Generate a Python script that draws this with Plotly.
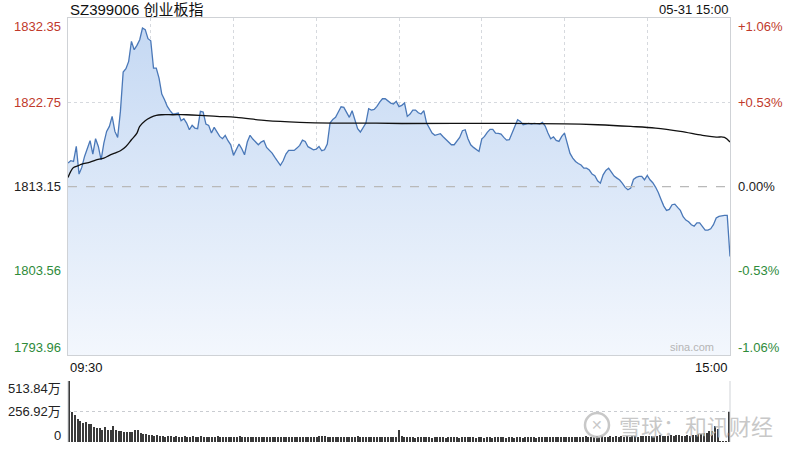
import plotly.graph_objects as go

# ---------------- data ----------------
prev_close = 1813.15
y_ticks = [1832.35, 1822.75, 1813.15, 1803.56, 1793.96]
pct_ticks = ["+1.06%", "+0.53%", "0.00%", "-0.53%", "-1.06%"]
vol_ticks = [513.84, 256.92, 0]
vol_tick_text = ["513.84万", "256.92万", "0"]

price = [
    1815.82, 1816.09, 1816.01, 1817.72, 1814.57, 1815.33, 1816.58, 1817.53, 1818.37, 1816.85,
    1818.60, 1817.72, 1816.20, 1818.10, 1819.43, 1820.00, 1821.14, 1819.43, 1818.75, 1821.71,
    1826.19, 1826.57, 1827.41, 1829.69, 1828.74, 1829.23, 1829.88, 1831.21, 1831.02, 1829.99,
    1829.76, 1826.65, 1826.65, 1825.51, 1823.69, 1823.04, 1822.28, 1821.79, 1821.41, 1821.45,
    1821.52, 1820.65, 1820.88, 1820.38, 1819.62, 1820.12, 1819.81, 1819.74, 1821.71, 1821.64,
    1820.27, 1820.12, 1819.24, 1819.89, 1819.36, 1818.86, 1818.60, 1818.98, 1818.37, 1817.91,
    1816.70, 1817.34, 1817.99, 1817.46, 1816.77, 1818.22, 1818.98, 1818.56, 1818.22, 1817.91,
    1818.22, 1818.37, 1817.61, 1817.34, 1816.96, 1816.47, 1816.01, 1815.56, 1816.09, 1816.85,
    1817.27, 1817.31, 1817.27, 1817.53, 1817.84, 1818.44, 1818.29, 1817.69, 1817.53, 1817.34,
    1817.42, 1817.72, 1817.23, 1817.34, 1817.99, 1820.38, 1820.80, 1821.03, 1821.64, 1822.24,
    1822.17, 1821.64, 1821.03, 1821.79, 1820.88, 1819.74, 1819.36, 1819.81, 1820.38, 1822.02,
    1821.86, 1821.94, 1822.28, 1822.77, 1823.15, 1823.15, 1822.93, 1822.66, 1822.55, 1822.85,
    1822.25, 1822.40, 1822.66, 1821.14, 1821.41, 1821.86, 1821.86, 1821.56, 1821.41, 1821.79,
    1820.38, 1819.81, 1819.24, 1818.98, 1819.05, 1819.17, 1818.82, 1818.48, 1818.18, 1817.91,
    1817.91, 1818.29, 1818.75, 1819.51, 1819.62, 1818.60, 1817.91, 1817.61, 1817.34, 1817.15,
    1818.56, 1818.86, 1819.32, 1819.66, 1819.66, 1819.24, 1819.20, 1819.13, 1818.75, 1818.44,
    1818.48, 1819.24, 1820.04, 1820.76, 1820.57, 1820.19, 1820.27, 1820.34, 1820.27, 1820.34,
    1820.31, 1820.27, 1820.46, 1820.04, 1819.24, 1818.60, 1818.82, 1818.41, 1818.29, 1818.86,
    1819.24, 1818.06, 1816.92, 1816.39, 1816.01, 1815.78, 1815.60, 1815.25, 1815.25, 1815.03,
    1814.57, 1814.38, 1813.81, 1813.54, 1814.49, 1814.99, 1815.25, 1814.80, 1814.34, 1814.11,
    1813.89, 1813.51, 1813.05, 1812.78, 1812.97, 1813.96, 1814.19, 1814.30, 1814.30, 1813.92,
    1814.42, 1813.92, 1813.58, 1813.09, 1812.48, 1811.68, 1810.92, 1810.43, 1810.54, 1811.08,
    1811.15, 1810.77, 1810.43, 1809.71, 1809.33, 1809.14, 1808.80, 1808.64, 1809.02, 1809.02,
    1808.61, 1808.19, 1808.19, 1808.34, 1808.80, 1809.56, 1809.75, 1809.82, 1809.86, 1809.86,
    1805.19,
]
minutes = list(range(len(price)))

avg_t = [0, 1, 2, 4, 5, 8, 10, 13, 15, 17, 19, 21, 23, 25, 26, 28, 30, 32, 34, 38, 43, 48, 54,
         61, 72, 84, 96, 108, 121, 150, 180, 192, 204, 213, 222, 230, 235, 238, 240]
avg_v = [1814.19, 1814.87, 1815.33, 1815.56, 1815.71, 1815.94, 1816.17, 1816.39, 1816.70,
         1816.96, 1817.23, 1817.72, 1818.48, 1819.24, 1820.00, 1820.65, 1821.03, 1821.26,
         1821.33, 1821.33, 1821.33, 1821.26, 1821.14, 1821.03, 1820.65, 1820.46, 1820.38,
         1820.38, 1820.33, 1820.35, 1820.30, 1820.19, 1820.00, 1819.81, 1819.43, 1818.98,
         1818.79, 1818.75, 1818.22]

# volume in 万, one value per minute (241 values)
volume = [
    513.84, 256.9, 229, 193, 173, 159, 165, 151, 154, 126,
    117, 117, 103, 126, 98, 98, 131, 103, 95, 89,
    87, 87, 87, 87, 103, 103, 75, 70, 67, 61,
    59, 53, 59, 50, 47, 45, 52, 47, 44, 48,
    45, 42, 50, 46, 44, 47, 43, 45, 48, 44,
    42, 46, 44, 43, 47, 45, 42, 44, 46, 43,
    41, 45, 47, 42, 44, 40, 43, 45, 42, 44,
    41, 46, 43, 40, 42, 45, 43, 41, 44, 42,
    40, 43, 45, 41, 39, 42, 44, 40, 43, 41,
    45, 48, 52, 47, 44, 46, 42, 40, 43, 45,
    41, 44, 42, 46, 43, 48, 45, 42, 44, 40,
    43, 45, 41, 44, 42, 40, 43, 41, 44, 42,
    105, 52, 46, 42, 44, 40, 38, 41, 43, 39,
    42, 40, 37, 41, 39, 43, 40, 38, 41, 39,
    42, 40, 38, 41, 43, 39, 40, 42, 38, 41,
    39, 37, 40, 42, 38, 41, 39, 43, 40, 38,
    41, 39, 37, 40, 42, 38, 40, 43, 39, 41,
    38, 40, 42, 39, 41, 44, 40, 42, 45, 41,
    43, 40, 44, 42, 46, 43, 41, 44, 47, 43,
    45, 42, 48, 44, 50, 46, 44, 48, 45, 47,
    44, 48, 46, 50, 45, 47, 49, 46, 52, 48,
    50, 47, 53, 49, 51, 55, 50, 54, 52, 56,
    50, 55, 58, 52, 47, 55, 50, 60, 58, 70,
    65, 80, 75, 95, 90, 131, 110, 5, 3, 3,
    256.9,
]

# ---------------- figure ----------------
RED = "#c0392b"
GREEN = "#2e8b3a"
BLUE = "#4a78b8"
FONT = "Liberation Sans, Arial, Noto Sans CJK SC, sans-serif"

fig = go.Figure()

fig.add_trace(go.Scatter(
    x=minutes, y=price, mode="lines",
    line=dict(color=BLUE, width=1.3),
    fill="tozeroy",
    fillgradient=dict(type="vertical", start=y_ticks[-1], stop=y_ticks[0],
                      colorscale=[[0, "rgba(243,247,253,1)"], [1, "rgba(196,216,243,1)"]]),
    xaxis="x", yaxis="y", hoverinfo="skip", showlegend=False,
))
fig.add_trace(go.Scatter(
    x=avg_t, y=avg_v, mode="lines", line=dict(color="#111111", width=1.3, shape="spline"),
    xaxis="x", yaxis="y", hoverinfo="skip", showlegend=False,
))
fig.add_trace(go.Bar(
    x=list(range(len(volume))), y=volume, width=0.42,
    marker=dict(color="#3a3a3a", line=dict(width=0)),
    xaxis="x2", yaxis="y2", hoverinfo="skip", showlegend=False,
))

fig.update_layout(
    width=800, height=450,
    margin=dict(l=68, r=70, t=18, b=8),
    paper_bgcolor="white", plot_bgcolor="white",
    font=dict(family=FONT, size=13, color="#222"),
    bargap=0,
    xaxis=dict(domain=[0, 1], range=[0, 240], anchor="y",
               tickvals=list(range(0, 241, 30)), showticklabels=False, ticks="",
               showgrid=True, gridcolor="#d6d9de", griddash="dot", gridwidth=1,
               showline=True, linecolor="#cfd2d6", linewidth=1, mirror=True, zeroline=False),
    yaxis=dict(domain=[0.2052, 1.0], range=[y_ticks[-1], y_ticks[0]], anchor="x",
               tickvals=[y_ticks[1], y_ticks[3]], showticklabels=False, ticks="",
               showgrid=True, gridcolor="#d6d9de", griddash="dot", gridwidth=1,
               showline=True, linecolor="#cfd2d6", linewidth=1, mirror=True, zeroline=False),
    xaxis2=dict(domain=[0, 1], range=[-0.5, 240.5], anchor="y2", showticklabels=False,
                ticks="", showgrid=False, showline=False, zeroline=False),
    yaxis2=dict(domain=[0.0, 0.1439], range=[0, vol_ticks[0]], anchor="x2",
                tickvals=[vol_ticks[0], vol_ticks[1]], showticklabels=False, ticks="",
                showgrid=True, gridcolor="#c9ccd1", griddash="dot", gridwidth=1,
                showline=False, zeroline=False),
)

fig.add_shape(type="line", xref="x", yref="y", x0=0, x1=240, y0=prev_close, y1=prev_close,
              line=dict(color="#b9b9b9", width=1.3, dash="dash"), layer="above")
for xv in (0, 1):
    fig.add_shape(type="line", xref="paper", yref="y2", x0=xv, x1=xv, y0=0, y1=vol_ticks[0],
                  line=dict(color="#d0d3d7", width=1))

ann = []
colors_lr = [RED, RED, "#222222", GREEN, GREEN]
shifts = [-8, 0, 0, 0, 8]
for v, lab, c, s in zip(y_ticks, pct_ticks, colors_lr, shifts):
    ann.append(dict(x=0, xref="paper", y=v, yref="y", text=f"{v:.2f}", showarrow=False,
                    xanchor="right", yanchor="middle", xshift=-5, yshift=s,
                    font=dict(size=13, color=c)))
    ann.append(dict(x=1, xref="paper", y=v, yref="y", text=lab, showarrow=False,
                    xanchor="left", yanchor="middle", xshift=6, yshift=s,
                    font=dict(size=13, color=c)))
vshift = [-8, 0, 6]
for v, t, s in zip(vol_ticks, vol_tick_text, vshift):
    ann.append(dict(x=0, xref="paper", y=v, yref="y2", text=t, showarrow=False,
                    xanchor="right", yanchor="middle", xshift=-5, yshift=s,
                    font=dict(size=13, color="#222")))

ann += [
    dict(x=0, xref="paper", y=1, yref="paper", text="SZ399006 创业板指", showarrow=False,
         xanchor="left", yanchor="bottom", yshift=-2, font=dict(size=15, color="#111")),
    dict(x=1, xref="paper", y=1, yref="paper", text="05-31 15:00", showarrow=False,
         xanchor="right", yanchor="bottom", yshift=-1, font=dict(size=13, color="#111")),
    dict(x=0, xref="paper", y=y_ticks[-1], yref="y", text="09:30", showarrow=False,
         xanchor="left", yanchor="top", yshift=-3, font=dict(size=13, color="#111")),
    dict(x=1, xref="paper", y=y_ticks[-1], yref="y", text="15:00", showarrow=False,
         xanchor="right", yanchor="top", yshift=-3, font=dict(size=13, color="#111")),
    dict(x=1, xref="paper", y=y_ticks[-1], yref="y", text="sina.com", showarrow=False,
         xanchor="right", yanchor="bottom", xshift=-14, yshift=0,
         font=dict(size=11, color="#b5b5b5")),
]
ann.append(dict(x=(775 - 68) / 662, xref="paper", y=(442 - 425) / 424, yref="paper",
                text="雪球：和讯财经", showarrow=False, xanchor="right", yanchor="middle",
                font=dict(size=22, color="rgba(190,190,190,0.85)",
                          family="Noto Sans CJK SC")))
fig.add_shape(type="circle", xref="paper", yref="paper",
              x0=(585 - 68) / 662, x1=(609 - 68) / 662,
              y0=(442 - 437) / 424, y1=(442 - 413) / 424,
              line=dict(color="rgba(190,190,190,0.85)", width=2.5))
ann.append(dict(x=(597 - 68) / 662, xref="paper", y=(442 - 425) / 424, yref="paper",
                text="✕", showarrow=False, xanchor="center", yanchor="middle",
                font=dict(size=14, color="rgba(190,190,190,0.85)")))
fig.update_layout(annotations=ann)

fig.write_html("out.html", config={"displayModeBar": False},
               post_script="document.body.style.margin='0';")
